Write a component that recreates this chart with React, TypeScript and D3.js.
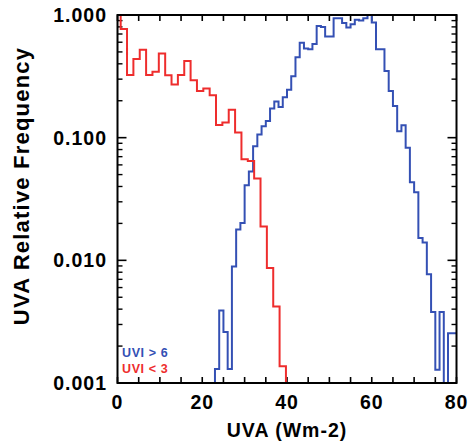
import React from "react";
import * as d3 from "d3";

// Red series (UVI < 3): points every 1.5 Wm-2 starting at 0
const redStep = 1.5;
const redValues = [
  1.0, 0.77, 0.325, 0.437, 0.52, 0.325, 0.344, 0.486, 0.323, 0.271,
  0.325, 0.421, 0.294, 0.24, 0.252, 0.222, 0.127, 0.133, 0.169, 0.11,
  0.0668, 0.0644, 0.0465, 0.0189, 0.00865, 0.0042, 0.00137, 0, 0, 0,
  0, 0, 0, 0, 0, 0, 0, 0, 0, 0,
  0, 0, 0, 0, 0, 0, 0, 0, 0, 0,
  0, 0, 0, 0,
];

// Blue series (UVI > 6): 1 Wm-2 bins from 0 to 80
const blueValues = [
  0, 0, 0, 0, 0, 0, 0, 0, 0, 0,
  0, 0, 0, 0, 0, 0, 0, 0, 0, 0,
  0, 0, 0, 0.0013, 0.0039, 0.0026, 0.0013, 0.0089, 0.0178, 0.0202,
  0.041, 0.053, 0.085, 0.106, 0.124, 0.137, 0.173, 0.197, 0.178, 0.214,
  0.246, 0.317, 0.453, 0.594, 0.532, 0.527, 0.579, 0.813, 0.8, 0.667,
  0.667, 0.94, 0.94, 0.86, 0.79, 0.84, 0.915, 0.9, 0.94, 1.0,
  0.87, 0.527, 0.527, 0.35, 0.24, 0.181, 0.113, 0.126, 0.0828, 0.0433,
  0.0359, 0.0152, 0.014, 0.0077, 0.0038, 0.00128, 0.0038, 0, 0.00255, 0.00255,
];

const xMajorTicks = [0, 20, 40, 60, 80];
const xMinorTicks = d3.range(0, 81, 5);
const yMajorTicks = [1, 0.1, 0.01, 0.001];
const yTickLabels = ["1.000", "0.100", "0.010", "0.001"];
const legendLabels = ["UVI > 6", "UVI < 3"];
const xTitle = "UVA (Wm-2)";
const yTitle = "UVA Relative Frequency";

const W = 470;
const H = 441;
const margin = { left: 117.5, right: 13.5, top: 15, bottom: 58 };
const RED = "#ee2d2d";
const BLUE = "#3450b4";
const FONT = "'Liberation Sans', Arial, Helvetica, sans-serif";

export default function App() {
  const x = d3.scaleLinear().domain([0, 80]).range([margin.left, W - margin.right]);
  const y = d3.scaleLog().domain([0.001, 1]).range([H - margin.bottom, margin.top]);
  const yc = (v: number) => y(Math.min(1, Math.max(0.001, v)));

  const line = d3
    .line<[number, number]>()
    .x((d) => x(d[0]))
    .y((d) => yc(d[1]))
    .curve(d3.curveStepAfter);

  const redPts: [number, number][] = redValues.map((v, i) => [
    i === 0 ? 0 : i * redStep - redStep / 2,
    v,
  ]);
  redPts.push([80, redValues[redValues.length - 1]]);

  const bluePts: [number, number][] = blueValues.map((v, i) => [i, v]);
  bluePts.push([80, blueValues[blueValues.length - 1]]);

  const x0 = x(0), x1 = x(80), y0 = y(0.001), y1 = y(1);

  const yMinor: number[] = [];
  [0.001, 0.01, 0.1].forEach((d) => {
    for (let k = 2; k <= 9; k++) yMinor.push(d * k);
  });

  return (
    <svg
      width={W}
      height={H}
      style={{ position: "absolute", left: 0, top: 0, background: "#fff" }}
      fontFamily={FONT}
      fontWeight="bold"
    >
      <defs>
        <clipPath id="plot">
          <rect x={x0 - 1.5} y={y1 - 1.5} width={x1 - x0 + 3} height={y0 - y1 + 3} />
        </clipPath>
      </defs>
      {/* x ticks top and bottom */}
      {xMinorTicks.map((t) => (
        <g key={"xt" + t}>
          <line x1={x(t)} x2={x(t)} y1={y0} y2={y0 - 6} stroke="#000" strokeWidth={1.6} />
          <line x1={x(t)} x2={x(t)} y1={y1} y2={y1 + 6} stroke="#000" strokeWidth={1.6} />
        </g>
      ))}
      {/* y ticks left and right */}
      {yMajorTicks.map((t) => (
        <g key={"ym" + t}>
          <line x1={x0} x2={x0 + 9} y1={y(t)} y2={y(t)} stroke="#000" strokeWidth={1.6} />
          <line x1={x1} x2={x1 - 9} y1={y(t)} y2={y(t)} stroke="#000" strokeWidth={1.6} />
        </g>
      ))}
      {yMinor.map((t) => (
        <g key={"yn" + t}>
          <line x1={x0} x2={x0 + 5} y1={y(t)} y2={y(t)} stroke="#000" strokeWidth={1.4} />
          <line x1={x1} x2={x1 - 5} y1={y(t)} y2={y(t)} stroke="#000" strokeWidth={1.4} />
        </g>
      ))}
      <g clipPath="url(#plot)">
        <path d={line(bluePts) || ""} fill="none" stroke={BLUE} strokeWidth={2} />
        <path d={line(redPts) || ""} fill="none" stroke={RED} strokeWidth={2} />
      </g>
      {/* frame */}
      <rect x={x0} y={y1} width={x1 - x0} height={y0 - y1} fill="none" stroke="#000" strokeWidth={2} />
      {/* x labels */}
      {xMajorTicks.map((t) => (
        <text key={"xl" + t} x={x(t)} y={409} textAnchor="middle" fontSize={19.5} letterSpacing={1}>
          {t}
        </text>
      ))}
      {/* y labels */}
      {yMajorTicks.map((t, i) => (
        <text key={"yl" + t} x={107} y={y(t) + 7} textAnchor="end" fontSize={19.5} letterSpacing={1}>
          {yTickLabels[i]}
        </text>
      ))}
      <text x={(x0 + x1) / 2} y={437} textAnchor="middle" fontSize={19.5} letterSpacing={1}>
        {xTitle}
      </text>
      <text
        transform={`translate(29, 186) rotate(-90)`}
        textAnchor="middle"
        fontSize={22}
        letterSpacing={1.2}
      >
        {yTitle}
      </text>
      <text x={122} y={357} fontSize={12.5} fill={BLUE} letterSpacing={0.6}>
        {legendLabels[0]}
      </text>
      <text x={122} y={373} fontSize={12.5} fill={RED} letterSpacing={0.6}>
        {legendLabels[1]}
      </text>
    </svg>
  );
}
